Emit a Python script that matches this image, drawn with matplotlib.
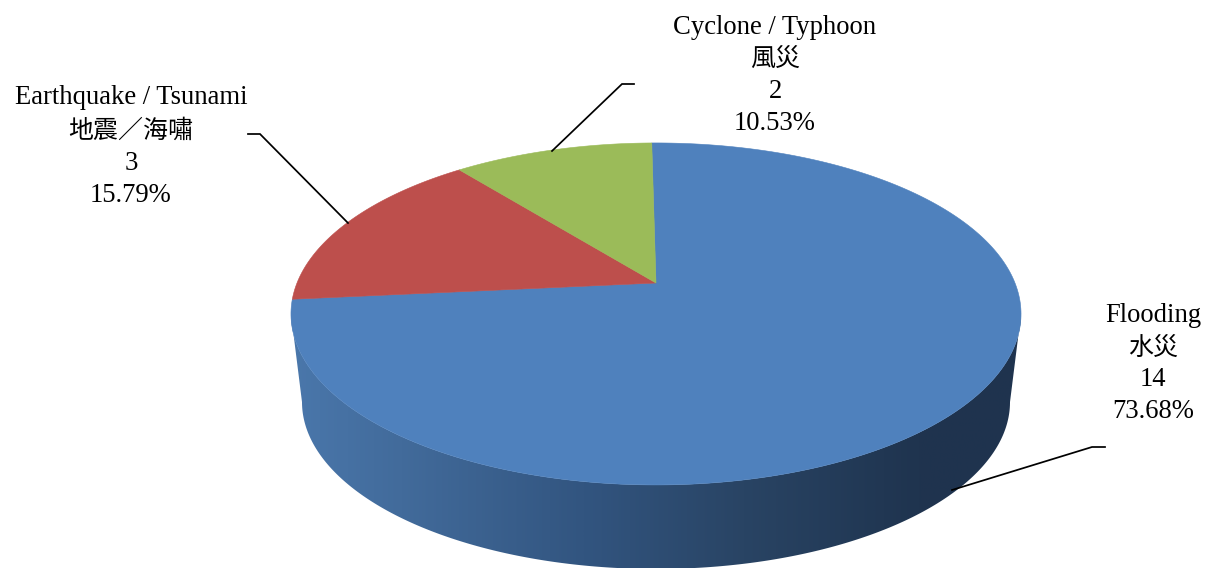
import numpy as np
import matplotlib
matplotlib.use("Agg")
import matplotlib.pyplot as plt
from matplotlib.colors import LinearSegmentedColormap
from matplotlib.patches import Polygon

# Data
categories_en = ["Flooding", "Earthquake / Tsunami", "Cyclone / Typhoon"]
categories_zh = ["水災", "地震／海嘯", "風災"]
values = [14, 3, 2]
pct_labels = ["73.68%", "15.79%", "10.53%"]
colors = ["#4f81bd", "#bd4f4c", "#9bbb59"]

# Label layout: centre x, line y positions
label_x = [1153, 131, 775]
label_y = [[316, 348, 380, 412], [98, 131, 163, 195], [27, 59, 91, 123]]
leaders = [
    [(1105, 447), (1092, 447), (952, 490)],
    [(248, 134), (260, 134), (348, 223)],
    [(634, 84), (622, 84), (552, 151)],
]

LATIN = "Liberation Serif"
CJK = "Noto Sans CJK TC"

W, H = 1208, 568
fig = plt.figure(figsize=(W / 100, H / 100), dpi=100)
ax = fig.add_axes([0, 0, 1, 1])
ax.set_xlim(0, W)
ax.set_ylim(H, 0)
ax.axis("off")

# Perspective projection of the pie's top face
CX, CY = 656, 283
PERSP, A, D = 0.181, 165.4, 359.0
START = 90.8


def project(t_deg):
    t = np.radians(t_deg)
    x, y = np.cos(t), np.sin(t)
    den = 1 + PERSP * y
    return CX + D * x / den, CY - A * y / den


# Side wall with horizontal gradient (between the widest points of the face)
upper_x, upper_y = project(np.linspace(-169.6, -10.4, 300))
BOT_CX, BOT_CY, BOT_RX, BOT_RY = 656, 402, 354, 167
th = np.radians(np.linspace(0, 180, 300))
lower_x = BOT_CX + BOT_RX * np.cos(th)
lower_y = BOT_CY + BOT_RY * np.sin(th)
outline = np.vstack([np.column_stack([upper_x, upper_y]),
                     np.column_stack([lower_x, lower_y])])
cmap = LinearSegmentedColormap.from_list(
    "wall",
    [(0.0, "#4a77ab"), (0.15, "#426b9b"), (0.40, "#325580"),
     (0.62, "#294464"), (0.86, "#1f344f"), (1.0, "#1f334e")],
)
grad = ax.imshow(np.linspace(0, 1, 512)[None, :], cmap=cmap, aspect="auto",
                 extent=(291, 1021, H + 5, 300), zorder=1)
grad.set_clip_path(Polygon(outline, closed=True, transform=ax.transData))
ax.set_xlim(0, W)
ax.set_ylim(H, 0)

# Top face wedges, clockwise from the top
total = sum(values)
angle = START
for v, c in zip(values, colors):
    sweep = 360 * v / total
    ts = np.linspace(angle, angle - sweep, 300)
    px, py = project(ts)
    pts = np.vstack([[CX, CY], np.column_stack([px, py])])
    ax.add_patch(Polygon(pts, closed=True, facecolor=c, edgecolor=c,
                         linewidth=0.4, zorder=2))
    angle -= sweep

# Leaders
for line in leaders:
    xs, ys = zip(*line)
    ax.plot(xs, ys, color="black", lw=1.25, zorder=3, solid_joinstyle="miter")

# Labels
for en, zh, v, p, x, ys in zip(categories_en, categories_zh, values, pct_labels,
                               label_x, label_y):
    kw = dict(ha="center", va="center", color="black", zorder=4)
    ax.text(x, ys[0], en, family=LATIN, fontsize=19.2, **kw)
    ax.text(x, ys[1], zh, family=CJK, fontsize=18, **kw)
    ax.text(x, ys[2], str(v), family=LATIN, fontsize=19.2, **kw)
    ax.text(x, ys[3], p, family=LATIN, fontsize=19.2, **kw)

fig.savefig("out.png", dpi=100, facecolor="white")
